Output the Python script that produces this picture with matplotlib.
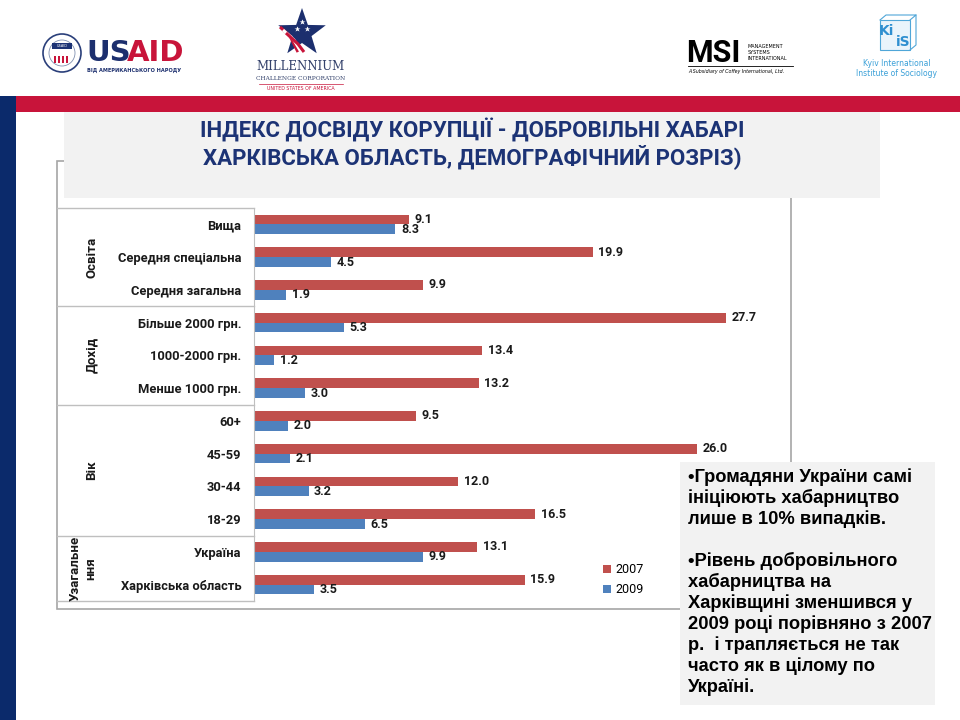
import matplotlib
matplotlib.use("Agg")
import matplotlib.pyplot as plt
from matplotlib.patches import Rectangle, Polygon, Circle
import numpy as np

# дані діаграми
categories = ["Вища", "Середня спеціальна", "Середня загальна",
              "Більше 2000 грн.", "1000-2000 грн.", "Менше 1000 грн.",
              "60+", "45-59", "30-44", "18-29",
              "Україна", "Харківська область"]
groups = ["Освіта", "Дохід", "Вік", "Узагальне\nння"]
group_sizes = [3, 3, 4, 2]
values_2007 = [9.1, 19.9, 9.9, 27.7, 13.4, 13.2, 9.5, 26.0, 12.0, 16.5, 13.1, 15.9]
values_2009 = [8.3, 4.5, 1.9, 5.3, 1.2, 3.0, 2.0, 2.1, 3.2, 6.5, 9.9, 3.5]
series_names = ["2007", "2009"]

title_lines = ["ІНДЕКС ДОСВІДУ КОРУПЦІЇ - ДОБРОВІЛЬНІ ХАБАРІ",
               "ХАРКІВСЬКА ОБЛАСТЬ, ДЕМОГРАФІЧНИЙ РОЗРІЗ)"]
note_lines = ["•Громадяни України самі",
              "ініціюють хабарництво",
              "лише в 10% випадків.",
              "",
              "•Рівень добровільного",
              "хабарництва на",
              "Харківщині зменшився у",
              "2009 році порівняно з 2007",
              "р.  і трапляється не так",
              "часто як в цілому по",
              "Україні."]

RED = "#c0504d"
BLUE = "#4f81bd"
NAVY = "#0b2a6b"
CRIMSON = "#c8143a"
LBL = ["Roboto", "DejaVu Sans"]

fig = plt.figure(figsize=(9.6, 7.2), dpi=100)

# фон слайду в пікселях
bg = fig.add_axes([0, 0, 1, 1])
bg.set_xlim(0, 960)
bg.set_ylim(720, 0)
bg.axis("off")

bg.add_patch(Rectangle((0, 96), 16, 624, fc=NAVY, ec="none"))
bg.add_patch(Rectangle((16, 96), 944, 16, fc=CRIMSON, ec="none"))
# рамка діаграми
bg.add_patch(Rectangle((57, 161), 734, 448, fc="white", ec="#a6a6a6", lw=1.2, zorder=1))
# блок заголовка
bg.add_patch(Rectangle((64, 112), 816, 86, fc="#f2f2f2", ec="none", zorder=2))
for i, line in enumerate(title_lines):
    bg.text(472, 131 + 26 * i, line, ha="center", va="center", fontsize=16,
            fontweight="bold", color="#1c3375", zorder=3,
            family=["Roboto", "DejaVu Sans"])

# --- логотипи ---
# USAID
bg.add_patch(Circle((62, 53), 19, fc="white", ec="#2a3f7a", lw=1.2))
bg.add_patch(Circle((62, 53), 13, fc="white", ec="#8090b0", lw=0.6))
bg.add_patch(Rectangle((52, 43), 20, 6, fc="#1c3375", ec="none"))
bg.text(62, 46, "USAID", ha="center", va="center", fontsize=2.5, color="white")
for k in range(4):
    bg.add_patch(Rectangle((54 + k * 4, 56), 2, 7, fc=CRIMSON, ec="none"))
bg.text(86, 53, "US", ha="left", va="center", fontsize=21, fontweight="bold",
        color="#1c2f6e", family="DejaVu Sans")
bg.text(127, 53, "AID", ha="left", va="center", fontsize=21, fontweight="bold",
        color=CRIMSON, family="DejaVu Sans")
bg.text(87, 70, "ВІД АМЕРИКАНСЬКОГО НАРОДУ", ha="left", va="center",
        fontsize=3.6, fontweight="bold", color="#1c2f6e")

# Millennium Challenge Corporation
ang = np.linspace(np.pi / 2, np.pi / 2 + 2 * np.pi, 11)[:-1]
rad = np.where(np.arange(10) % 2 == 0, 25, 10)
star = np.c_[302 + rad * np.cos(ang), 33 - rad * np.sin(ang)]
bg.add_patch(Polygon(star, closed=True, fc="#1c2f6e", ec="none"))
for k in range(3):
    bg.plot([280 + k * 3, 290 + k * 4, 298 + k * 3], [27 + k * 3, 36 + k * 4, 52],
            color=CRIMSON if k != 1 else "white", lw=2.2, solid_capstyle="butt")
for sx, sy in [(302, 22), (297, 29), (307, 29)]:
    bg.plot(sx, sy, marker="*", ms=4, color="white", mec="none")
bg.text(301, 67, "MILLENNIUM", ha="center", va="center", fontsize=8.5,
        color="#33416b", family="DejaVu Serif")
bg.text(301, 79, "CHALLENGE CORPORATION", ha="center", va="center", fontsize=4.2,
        color="#33416b", family="DejaVu Serif")
bg.plot([259, 343], [84, 84], color=CRIMSON, lw=0.5)
bg.text(301, 89, "UNITED STATES OF AMERICA", ha="center", va="center", fontsize=3.4,
        color=CRIMSON)

# MSI
bg.text(686, 53, "MSI", ha="left", va="center", fontsize=22, fontweight="bold",
        color="black", family=["Roboto", "DejaVu Sans"])
for j, w in enumerate(["MANAGEMENT", "SYSTEMS", "INTERNATIONAL"]):
    bg.text(748, 46 + 6.5 * j, w, ha="left", va="center", fontsize=3.5, color="black")
bg.plot([688, 793], [66, 66], color="black", lw=0.6)
bg.text(688, 71, "A Subsidiary of Coffey International, Ltd.", ha="left", va="center",
        fontsize=3.4, color="black", fontstyle="italic")

# KIIS
bg.add_patch(Rectangle((880, 20), 30, 30, fc="#eaf4fb", ec="#4fa6d8", lw=0.8))
bg.plot([880, 886, 916, 910], [20, 15, 15, 20], color="#4fa6d8", lw=0.8)
bg.plot([916, 916, 910], [15, 45, 50], color="#4fa6d8", lw=0.8)
bg.text(886, 31, "Ki", ha="center", va="center", fontsize=10, fontweight="bold",
        color="#2f8fd0")
bg.text(903, 42, "iS", ha="center", va="center", fontsize=10, fontweight="bold",
        color="#2f8fd0")
bg.text(897, 63, "Kyiv International", ha="center", va="center", fontsize=5.5,
        color="#3aa0d8")
bg.text(897, 73, "Institute of Sociology", ha="center", va="center", fontsize=5.5,
        color="#3aa0d8")

# --- діаграма ---
ax = fig.add_axes([254 / 960, 1 - 601 / 720, 537 / 960, 393 / 720])
ax.set_facecolor("none")
y = np.arange(len(categories))
h = 0.3
b07 = ax.barh(y - h / 2, values_2007, height=h, color=RED, label=series_names[0])
b09 = ax.barh(y + h / 2, values_2009, height=h, color=BLUE, label=series_names[1])
for bars in (b07, b09):
    for r in bars:
        ax.annotate(f"{r.get_width():.1f}", (r.get_width(), r.get_y() + r.get_height() / 2),
                    xytext=(4, 0), textcoords="offset points", ha="left", va="center",
                    fontsize=9, fontweight="bold", color="#1a1a1a", family=LBL)
ax.set_xlim(0, 31.53)
ax.set_ylim(len(categories) - 0.5, -0.5)
ax.set_xticks([])
ax.set_yticks(y, categories)
ax.tick_params(axis="y", length=0, pad=9)
for t in ax.get_yticklabels():
    t.set_fontsize(9.3)
    t.set_fontweight("bold")
    t.set_family(LBL)
    t.set_color("#1a1a1a")
for s in ("top", "right", "bottom"):
    ax.spines[s].set_visible(False)
ax.spines["left"].set_color("#bfbfbf")

# таблиця груп зліва
tr = ax.get_yaxis_transform()
left_x = (57 - 254) / 537
edges = np.concatenate([[0], np.cumsum(group_sizes)]) - 0.5
for e in edges:
    ax.plot([left_x, 0], [e, e], color="#bfbfbf", lw=1, transform=tr, clip_on=False)
for g, a, b in zip(groups, edges[:-1], edges[1:]):
    gx = (92 - 254) / 537 if "\n" not in g else (83 - 254) / 537
    ax.text(gx, (a + b) / 2, g, rotation=90, ha="center", va="center", fontsize=9.5,
            fontweight="bold", color="#1a1a1a", family=LBL, transform=tr,
            multialignment="center", linespacing=1.3)

ax.legend(handles=[b07, b09], loc="upper left", bbox_to_anchor=(597 / 960, 1 - 557 / 720),
          bbox_transform=fig.transFigure, frameon=False, fontsize=9, handlelength=0.6,
          handleheight=0.6, handletextpad=0.4, labelspacing=0.55, borderpad=0,
          prop={"family": LBL, "size": 9})

# --- текстовий блок справа ---
ov = fig.add_axes([0, 0, 1, 1], zorder=5)
ov.set_xlim(0, 960)
ov.set_ylim(720, 0)
ov.axis("off")
ov.patch.set_alpha(0)
ov.add_patch(Rectangle((680, 462), 255, 243, fc="#f2f2f2", ec="none"))
for i, line in enumerate(note_lines):
    ov.text(688, 477 + 21 * i, line, ha="left", va="center", fontsize=13.2,
            fontweight="bold", color="black", family=["Liberation Sans", "DejaVu Sans"])

fig.savefig("out.png", dpi=100)
